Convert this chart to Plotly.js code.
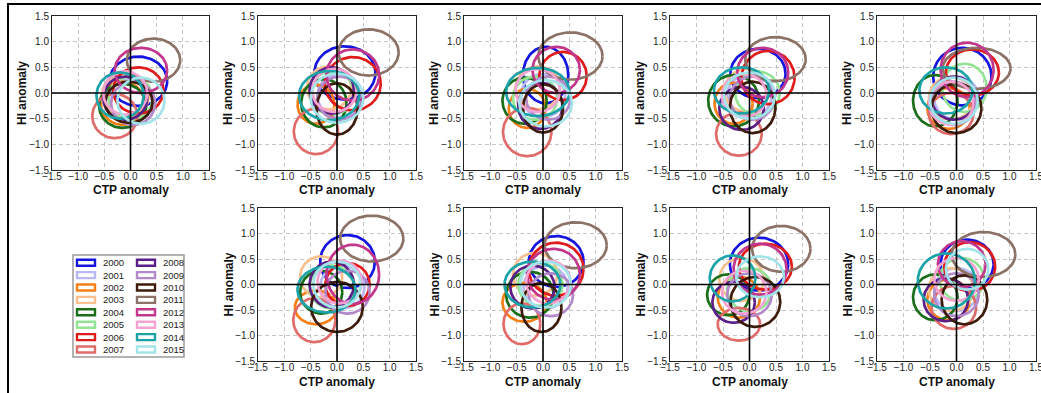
<!DOCTYPE html>
<html><head><meta charset="utf-8">
<script src="https://cdn.plot.ly/plotly-3.0.1.min.js"></script>
<style>html,body{margin:0;padding:0;background:#fff}#chart{width:1041px;height:393px}</style>
</head><body><div id="chart"></div>
<script>
// ---------- DATA ----------
const years = ["2000","2001","2002","2003","2004","2005","2006","2007","2008","2009","2010","2011","2012","2013","2014","2015"];
const colors = ["#1515e0","#b8b8f5","#f57f17","#f7c08e","#1a6e1a","#95e495","#e01b1b","#e06b6b",
                "#5c1f87","#b289c9","#3d1c0b","#8c7266","#c2378c","#f5a3d3","#1ba3a8","#a3e3ea"];
const tickValues = [-1.5,-1.0,-0.5,0.0,0.5,1.0,1.5];
const xTitle = "CTP anomaly";
const yTitle = "HI anomaly";

// per panel: centre (CTP, HI) and half-widths (CTP, HI), years 2000..2015
const ctp1 = [0.15,0.00,-0.15,-0.10,-0.15,0.00,0.15,-0.30,-0.10,0.05,-0.03,0.44,0.20,-0.10,-0.20,0.20];
const hi1  = [0.23,-0.15,-0.20,-0.05,-0.25,-0.10,0.05,-0.45,-0.10,-0.20,-0.18,0.64,0.44,0.00,-0.05,-0.15];
const sdC1 = [0.55,0.42,0.42,0.45,0.45,0.42,0.48,0.43,0.42,0.42,0.45,0.51,0.50,0.42,0.45,0.45];
const sdH1 = [0.48,0.42,0.42,0.42,0.43,0.42,0.45,0.43,0.42,0.42,0.40,0.42,0.44,0.42,0.45,0.45];

const ctp2 = [0.15,0.05,-0.40,-0.15,-0.25,-0.10,0.30,-0.40,-0.10,0.05,0.00,0.60,0.30,-0.05,-0.15,0.00];
const hi2  = [0.39,-0.05,-0.22,0.10,-0.20,0.00,0.18,-0.75,0.05,-0.10,-0.31,0.79,0.35,0.05,-0.05,-0.10];
const sdC2 = [0.58,0.42,0.35,0.42,0.43,0.42,0.53,0.42,0.42,0.42,0.39,0.57,0.50,0.42,0.57,0.50];
const sdH2 = [0.52,0.42,0.38,0.42,0.47,0.42,0.52,0.44,0.45,0.42,0.50,0.45,0.50,0.42,0.48,0.48];

const ctp3 = [0.05,0.00,-0.30,-0.10,-0.35,-0.15,0.38,-0.30,-0.05,0.10,0.00,0.52,0.25,-0.10,-0.10,0.05];
const hi3  = [0.35,-0.05,-0.30,0.10,-0.15,-0.10,0.33,-0.76,-0.25,-0.10,-0.30,0.72,0.45,0.05,0.02,-0.20];
const sdC3 = [0.43,0.42,0.35,0.42,0.42,0.42,0.45,0.46,0.42,0.42,0.38,0.61,0.45,0.42,0.60,0.50];
const sdH3 = [0.55,0.42,0.38,0.42,0.45,0.42,0.47,0.47,0.45,0.42,0.47,0.46,0.45,0.42,0.47,0.45];

const ctp4 = [0.16,0.00,-0.30,-0.05,-0.30,0.15,0.35,-0.20,-0.15,0.05,0.06,0.49,0.25,-0.10,-0.15,0.00];
const hi4  = [0.38,-0.05,-0.20,0.05,-0.15,0.00,0.30,-0.80,-0.30,-0.10,-0.28,0.66,0.40,-0.05,0.05,-0.05];
const sdC4 = [0.52,0.42,0.36,0.42,0.48,0.42,0.50,0.43,0.42,0.42,0.43,0.57,0.48,0.42,0.52,0.48];
const sdH4 = [0.48,0.42,0.40,0.42,0.50,0.42,0.52,0.42,0.42,0.42,0.50,0.43,0.48,0.42,0.45,0.45];

const ctp5 = [0.11,0.00,-0.15,-0.10,-0.40,0.15,0.30,-0.10,-0.05,-0.05,0.00,0.38,0.20,-0.10,-0.20,-0.05];
const hi5  = [0.32,-0.10,-0.30,-0.10,-0.15,0.10,0.40,-0.40,-0.10,-0.20,-0.30,0.48,0.45,-0.20,0.05,-0.15];
const sdC5 = [0.55,0.42,0.40,0.42,0.42,0.42,0.50,0.42,0.42,0.42,0.47,0.64,0.50,0.42,0.50,0.45];
const sdH5 = [0.56,0.42,0.40,0.42,0.50,0.47,0.45,0.40,0.42,0.42,0.48,0.40,0.53,0.42,0.45,0.45];

const ctp6 = [0.20,0.10,-0.40,-0.30,-0.30,-0.10,0.20,-0.43,-0.10,0.20,0.00,0.66,0.30,0.05,-0.20,0.00];
const hi6  = [0.45,-0.05,-0.45,0.15,-0.15,-0.05,0.00,-0.70,0.00,-0.15,-0.44,0.90,0.20,0.05,-0.10,0.00];
const sdC6 = [0.52,0.42,0.40,0.40,0.40,0.42,0.42,0.40,0.42,0.42,0.49,0.60,0.50,0.42,0.55,0.45];
const sdH6 = [0.52,0.42,0.33,0.40,0.42,0.42,0.42,0.43,0.45,0.42,0.49,0.45,0.58,0.42,0.45,0.45];

const ctp7 = [0.25,0.05,-0.35,-0.15,-0.25,-0.05,0.25,-0.40,-0.20,0.15,-0.03,0.62,0.20,0.10,-0.20,0.05];
const hi7  = [0.45,-0.05,-0.35,0.20,-0.20,0.00,0.30,-0.77,-0.05,-0.20,-0.45,0.77,0.20,0.05,0.00,0.00];
const sdC7 = [0.52,0.42,0.42,0.42,0.45,0.42,0.52,0.35,0.42,0.42,0.38,0.59,0.50,0.42,0.53,0.48];
const sdH7 = [0.50,0.42,0.38,0.42,0.45,0.42,0.52,0.40,0.42,0.42,0.48,0.45,0.50,0.42,0.45,0.45];

const ctp8 = [0.18,0.00,-0.20,-0.15,-0.40,0.00,0.30,-0.20,-0.30,0.00,0.11,0.60,0.20,-0.10,-0.32,0.20];
const hi8  = [0.40,-0.10,-0.25,0.10,-0.20,-0.10,0.35,-0.78,-0.35,-0.20,-0.34,0.70,0.30,-0.15,0.12,0.15];
const sdC8 = [0.55,0.42,0.40,0.42,0.40,0.42,0.50,0.40,0.40,0.42,0.47,0.55,0.50,0.42,0.43,0.45];
const sdH8 = [0.52,0.42,0.40,0.42,0.40,0.42,0.45,0.32,0.40,0.42,0.49,0.45,0.50,0.42,0.45,0.40];

const ctp9 = [0.20,0.00,-0.15,-0.10,-0.40,0.10,0.25,-0.05,-0.20,0.00,0.15,0.51,0.10,0.00,-0.19,0.20];
const hi9  = [0.40,-0.10,-0.30,-0.10,-0.25,0.10,0.35,-0.45,-0.30,-0.20,-0.30,0.59,0.40,0.10,0.07,0.30];
const sdC9 = [0.50,0.42,0.40,0.42,0.42,0.42,0.48,0.42,0.42,0.42,0.43,0.60,0.45,0.42,0.54,0.40];
const sdH9 = [0.48,0.42,0.40,0.42,0.45,0.42,0.48,0.42,0.42,0.42,0.48,0.44,0.45,0.42,0.54,0.40];

const panels = [
  [ctp1,hi1,sdC1,sdH1],[ctp2,hi2,sdC2,sdH2],[ctp3,hi3,sdC3,sdH3],[ctp4,hi4,sdC4,sdH4],[ctp5,hi5,sdC5,sdH5],
  [ctp6,hi6,sdC6,sdH6],[ctp7,hi7,sdC7,sdH7],[ctp8,hi8,sdC8,sdH8],[ctp9,hi9,sdC9,sdH9]
];

// ---------- LAYOUT ----------
const W = 1041, H = 393;
const colsPx = [[52,209],[258,416],[464,622],[670,829],[877,1036]];
const rowsPx = [[16,170],[208,361]];
const panelCell = [[0,0],[0,1],[0,2],[0,3],[0,4],[1,1],[1,2],[1,3],[1,4]];
const FONT = "Liberation Sans, Arial, Helvetica, sans-serif";

const traces = [];
const shapes = [];
const annotations = [];
const layout = {
  width: W, height: H, margin: {l:0,r:0,t:0,b:0},
  paper_bgcolor: "#fff", plot_bgcolor: "#fff", showlegend: false,
  font: {family: FONT, size: 10, color: "#222"}
};

const NPT = 121;
panels.forEach((p, k) => {
  const [cx, cy, sx, sy] = p;
  const n = k + 1;
  const xa = n === 1 ? "x" : "x" + n, ya = n === 1 ? "y" : "y" + n;
  const [r, c] = panelCell[k];
  const axBase = {
    range: [-1.5, 1.5], tickvals: tickValues, tickformat: ".1f",
    showgrid: true, gridcolor: "#c4c4c4", gridwidth: 1, griddash: "4px,3px",
    zeroline: false, showline: true, mirror: true, linecolor: "#222", linewidth: 1,
    ticks: "", tickfont: {family: FONT, size: 10, color: "#222"}, fixedrange: true,
    ticklabeloverflow: "allow"
  };
  layout[n === 1 ? "xaxis" : "xaxis" + n] = Object.assign({}, axBase, {
    domain: [colsPx[c][0]/W, colsPx[c][1]/W], anchor: ya, ticklabelstandoff: -3
  });
  layout[n === 1 ? "yaxis" : "yaxis" + n] = Object.assign({}, axBase, {
    domain: [1 - rowsPx[r][1]/H, 1 - rowsPx[r][0]/H], anchor: xa, ticklabelstandoff: 0
  });
  years.forEach((yr, i) => {
    const xs = [], ys = [];
    for (let j = 0; j < NPT; j++) {
      const t = 2 * Math.PI * j / (NPT - 1);
      xs.push(cx[i] + sx[i] * Math.cos(t));
      ys.push(cy[i] + sy[i] * Math.sin(t));
    }
    traces.push({type: "scatter", mode: "lines", x: xs, y: ys, xaxis: xa, yaxis: ya,
      name: yr, line: {color: colors[i], width: 2.7}, hoverinfo: "skip", showlegend: false});
  });
  // zero lines
  shapes.push({type:"line", xref: xa, yref: ya + " domain", x0: 0, x1: 0, y0: 0, y1: 1,
    line: {color: "#000", width: 1.6}, layer: "above"});
  shapes.push({type:"line", xref: xa + " domain", yref: ya, x0: 0, x1: 1, y0: 0, y1: 0,
    line: {color: "#000", width: 1.6}, layer: "above"});
  // axis titles
  annotations.push({text: xTitle, xref: xa + " domain", yref: ya + " domain", x: 0.5, y: 0,
    yshift: -20.5, xanchor: "center", yanchor: "middle", showarrow: false,
    font: {family: FONT, size: 12, color: "#111", weight: "bold"}});
  annotations.push({text: yTitle, xref: xa + " domain", yref: ya + " domain", x: 0, y: 0.5,
    xshift: -30, xanchor: "center", yanchor: "middle", textangle: -90, showarrow: false,
    font: {family: FONT, size: 12, color: "#111", weight: "bold"}});
});

// legend (two columns, 8 rows)
const px = v => v / W, py = v => 1 - v / H;
shapes.push({type:"rect", xref:"paper", yref:"paper", x0: px(73), x1: px(184), y0: py(255), y1: py(357),
  line: {color: "#9a9a9a", width: 1.5}, fillcolor: "#fff", layer: "above"});
years.forEach((yr, i) => {
  const col = Math.floor(i / 8), row = i % 8;
  const yc = 262.7 + row * 12.4;
  const rx0 = col === 0 ? 77 : 137, rx1 = rx0 + 18;
  shapes.push({type:"rect", xref:"paper", yref:"paper", x0: px(rx0), x1: px(rx1), y0: py(yc + 3), y1: py(yc - 3),
    line: {color: colors[i], width: 2.4}, fillcolor: "#fff", layer: "above"});
  annotations.push({text: yr, xref:"paper", yref:"paper", x: px(col === 0 ? 100.5 : 160.5), y: py(yc),
    xanchor: "left", yanchor: "middle", showarrow: false, font: {family: FONT, size: 9.5, color: "#222"}});
});

// figure frame (top and left edges)
shapes.push({type:"line", xref:"paper", yref:"paper", x0: px(7), x1: 1, y0: py(4), y1: py(4),
  line: {color: "#000", width: 2}, layer: "above"});
shapes.push({type:"line", xref:"paper", yref:"paper", x0: px(8), x1: px(8), y0: py(4), y1: 0,
  line: {color: "#000", width: 2}, layer: "above"});

layout.shapes = shapes;
layout.annotations = annotations;
Plotly.newPlot("chart", traces, layout, {displayModeBar: false, staticPlot: true});
</script>
</body></html>
